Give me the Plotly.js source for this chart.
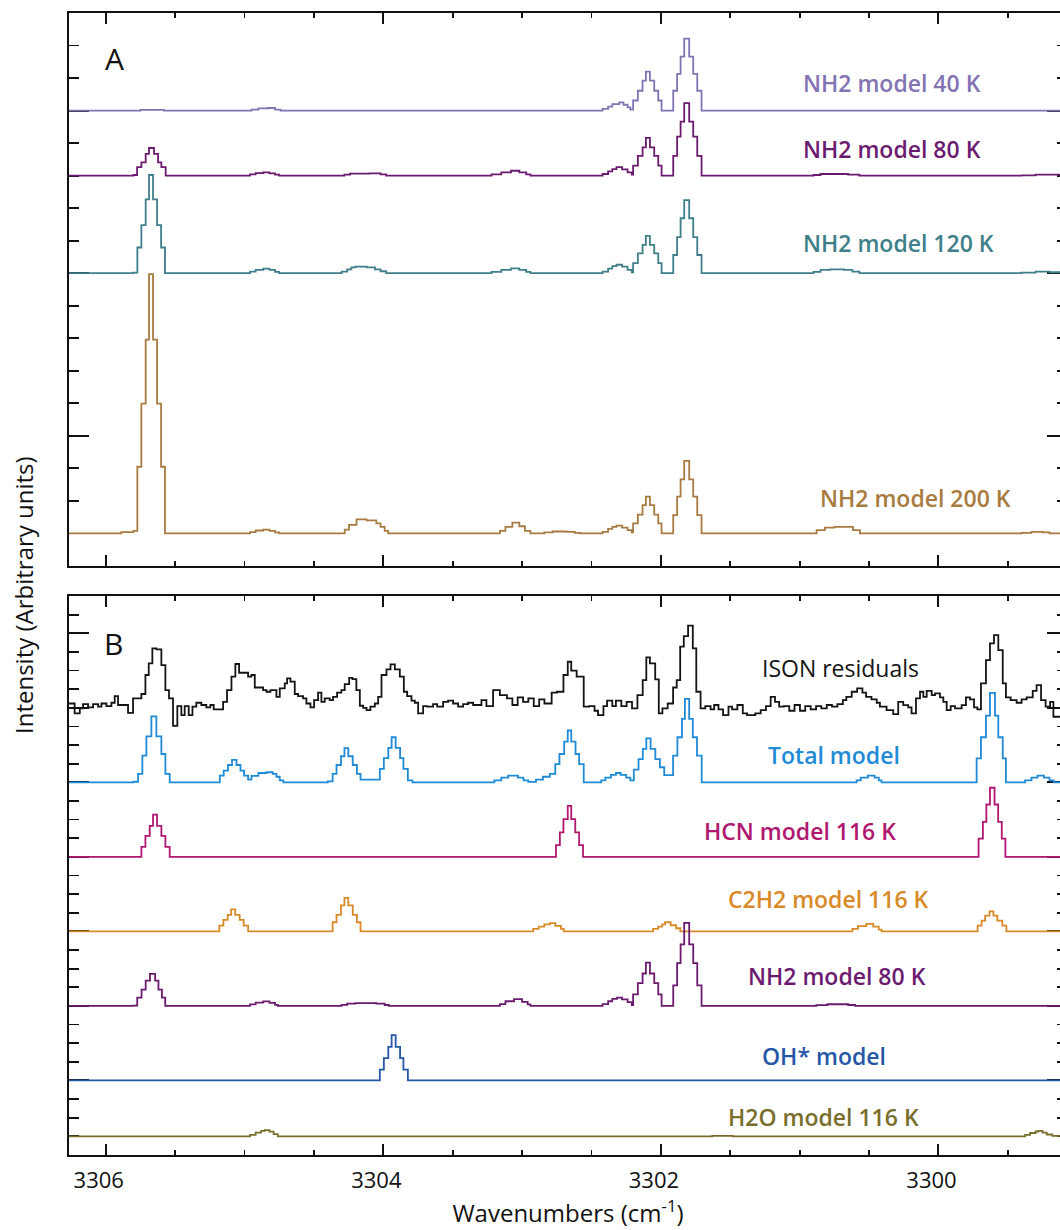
<!DOCTYPE html>
<html>
<head>
<meta charset="utf-8">
<script src="https://cdn.plot.ly/plotly-3.0.1.min.js"></script>
<style>
html,body{margin:0;padding:0;overflow:hidden;background:#fff;}
#chart{width:1080px;height:1230px;}
</style>
</head>
<body>
<div id="chart"></div>
<script>
// ---- Panel A series: [wavenumber (bin start), intensity] ----
const nh2_40K_A = [[3306.264,0],[3305.75,0.02],[3305.58,0],[3304.95,0.03],[3304.90,0.07],[3304.83,0.08],[3304.78,0.03],[3304.74,0],
 [3302.42,0.05],[3302.38,0.12],[3302.35,0.2],[3302.30,0.25],[3302.27,0.18],[3302.24,0.1],[3302.22,0.03],
 [3302.200,0.31],[3302.166,0.61],[3302.132,0.92],[3302.108,1.2],[3302.079,0.92],[3302.048,0.61],[3302.019,0.31],[3301.995,0],
 [3301.911,0.61],[3301.883,1.13],[3301.858,1.66],[3301.832,2.21],[3301.796,1.66],[3301.767,1.13],[3301.738,0.61],[3301.707,0],[3299.075,0]];

const nh2_80K_A = [[3306.264,0],[3305.80,0.02],[3305.774,0.26],[3305.743,0.41],[3305.712,0.67],[3305.688,0.85],[3305.652,0.67],[3305.623,0.41],[3305.599,0.26],[3305.568,0],
 [3304.96,0.04],[3304.92,0.08],[3304.865,0.1],[3304.82,0.07],[3304.78,0.03],[3304.75,0],
 [3304.28,0.03],[3304.24,0.06],[3304.10,0.07],[3304.02,0.04],[3303.98,0],
 [3303.22,0.04],[3303.15,0.1],[3303.08,0.15],[3303.02,0.1],[3302.97,0.04],[3302.94,0],
 [3302.42,0.05],[3302.38,0.13],[3302.35,0.2],[3302.32,0.26],[3302.28,0.19],[3302.24,0.1],[3302.21,0.03],
 [3302.200,0.31],[3302.166,0.61],[3302.132,0.87],[3302.108,1.16],[3302.079,0.87],[3302.048,0.61],[3302.019,0.31],[3301.995,0],
 [3301.911,0.61],[3301.883,1.2],[3301.858,1.66],[3301.832,2.23],[3301.796,1.66],[3301.767,1.2],[3301.738,0.61],[3301.707,0],
 [3300.90,0.02],[3300.85,0.05],[3300.65,0.03],[3300.57,0],[3299.40,0.01],[3299.30,0.03],[3299.075,0.03]];

const nh2_120K_A = [[3306.264,0],[3305.80,0.02],[3305.772,0.79],[3305.743,1.48],[3305.712,2.27],[3305.688,3.02],[3305.659,2.27],[3305.630,1.48],[3305.601,0.79],[3305.573,0],
 [3304.96,0.05],[3304.92,0.1],[3304.865,0.14],[3304.82,0.1],[3304.78,0.04],[3304.75,0],
 [3304.30,0.05],[3304.26,0.12],[3304.23,0.18],[3304.20,0.2],[3304.12,0.18],[3304.06,0.12],[3304.02,0.06],[3303.98,0],
 [3303.22,0.04],[3303.15,0.1],[3303.08,0.15],[3303.02,0.1],[3302.97,0.04],[3302.94,0],
 [3302.42,0.05],[3302.38,0.14],[3302.35,0.22],[3302.32,0.26],[3302.28,0.2],[3302.24,0.1],[3302.21,0.03],
 [3302.200,0.31],[3302.166,0.61],[3302.132,0.87],[3302.108,1.15],[3302.079,0.87],[3302.048,0.61],[3302.019,0.31],[3301.995,0],
 [3301.911,0.56],[3301.883,1.11],[3301.858,1.69],[3301.832,2.25],[3301.796,1.69],[3301.767,1.11],[3301.738,0.56],[3301.707,0],
 [3300.90,0.04],[3300.85,0.1],[3300.78,0.12],[3300.68,0.1],[3300.62,0.05],[3300.57,0],[3299.40,0.02],[3299.30,0.05],[3299.20,0.03],[3299.075,0.03]];

const nh2_200K_A = [[3306.264,0],[3305.887,0.04],[3305.80,0.08],[3305.772,2.05],[3305.743,3.99],[3305.712,5.96],[3305.688,7.97],[3305.659,5.96],[3305.630,3.99],[3305.601,2.05],[3305.573,0],
 [3304.96,0.04],[3304.92,0.09],[3304.865,0.12],[3304.82,0.08],[3304.78,0.03],[3304.75,0],
 [3304.278,0.12],[3304.247,0.26],[3304.193,0.43],[3304.12,0.4],[3304.05,0.31],[3304.02,0.2],[3303.99,0.08],[3303.965,0],
 [3303.16,0.08],[3303.12,0.2],[3303.07,0.33],[3303.02,0.22],[3302.98,0.08],[3302.94,0],
 [3302.84,0.03],[3302.78,0.06],[3302.68,0.05],[3302.62,0.02],[3302.58,0],
 [3302.42,0.05],[3302.38,0.14],[3302.35,0.2],[3302.32,0.24],[3302.28,0.18],[3302.24,0.1],[3302.21,0.03],
 [3302.200,0.31],[3302.166,0.58],[3302.132,0.87],[3302.108,1.13],[3302.079,0.87],[3302.048,0.58],[3302.019,0.31],[3301.995,0],
 [3301.911,0.56],[3301.883,1.13],[3301.858,1.66],[3301.832,2.23],[3301.796,1.66],[3301.767,1.13],[3301.738,0.56],[3301.707,0],
 [3300.878,0.1],[3300.818,0.18],[3300.75,0.2],[3300.662,0.2],[3300.616,0.1],[3300.566,0],
 [3299.40,0.02],[3299.33,0.05],[3299.25,0.03],[3299.20,0],[3299.075,0]];

// ---- Panel B series ----
const ison_residuals = [[3306.264,0.23],[3306.224,-0.30],[3306.187,-0.03],[3306.163,0.20],[3306.127,0.02],[3306.091,0.20],[3306.055,0.06],[3306.031,0.23],
 [3305.995,0.09],[3305.959,0.27],[3305.935,0.63],[3305.911,0.15],[3305.839,-0.27],[3305.803,0.50],[3305.743,0.74],[3305.714,1.76],[3305.690,2.38],
 [3305.664,3.19],[3305.635,3.13],[3305.599,2.29],[3305.570,0.95],[3305.544,0.50],[3305.515,-0.97],[3305.484,0.09],[3305.455,-0.39],[3305.431,0.09],
 [3305.402,-0.39],[3305.375,0.06],[3305.347,0.27],[3305.311,0.15],[3305.275,0.02],[3305.246,0.15],[3305.222,-0.09],[3305.154,0.32],[3305.126,0.95],
 [3305.094,1.67],[3305.066,2.35],[3305.039,1.88],[3304.974,1.67],[3304.950,1.76],[3304.926,1.09],[3304.866,0.95],[3304.842,0.86],[3304.813,0.95],
 [3304.770,0.59],[3304.746,1.04],[3304.710,1.31],[3304.693,1.58],[3304.669,1.40],[3304.638,0.74],[3304.614,0.63],[3304.578,0.50],[3304.554,0.23],
 [3304.525,0.02],[3304.499,0.41],[3304.470,0.81],[3304.446,0.32],[3304.422,0.50],[3304.386,0.41],[3304.362,0.59],[3304.333,0.81],[3304.302,0.95],
 [3304.278,1.27],[3304.246,1.61],[3304.222,1.54],[3304.194,0.95],[3304.169,0.11],[3304.145,0.0],[3304.121,-0.12],[3304.093,0.06],[3304.061,0.23],
 [3304.037,0.59],[3304.013,1.76],[3303.977,2.06],[3303.948,2.33],[3303.917,2.06],[3303.881,1.67],[3303.852,0.86],[3303.828,0.63],[3303.797,0.38],
 [3303.773,0.27],[3303.749,-0.30],[3303.713,0.09],[3303.684,0.06],[3303.641,0.20],[3303.612,0.06],[3303.569,0.32],[3303.533,0.38],[3303.497,0.23],
 [3303.461,0.06],[3303.425,0.20],[3303.389,0.27],[3303.353,0.15],[3303.293,0.41],[3303.257,0.09],[3303.209,0.95],
 [3303.160,0.68],[3303.109,0.50],[3303.070,0.15],[3303.032,0.56],[3302.993,0.32],[3302.955,0.50],[3302.916,0.09],[3302.877,0.45],[3302.839,0.23],
 [3302.787,0.81],[3302.749,0.86],[3302.702,1.76],[3302.671,2.47],[3302.646,1.99],[3302.607,1.67],[3302.556,0.06],[3302.517,0.09],[3302.478,-0.16],
 [3302.453,-0.39],[3302.414,0.09],[3302.388,0.38],[3302.350,0.09],[3302.324,0.38],[3302.285,0.09],[3302.247,0.32],[3302.208,-0.03],[3302.169,0.68],
 [3302.131,1.49],[3302.105,2.71],[3302.079,2.38],[3302.041,1.52],[3302.015,-0.30],[3301.989,-0.03],[3301.951,0.23],[3301.912,1.09],[3301.886,1.49],
 [3301.861,3.28],[3301.835,3.85],[3301.804,4.41],[3301.770,3.19],[3301.745,0.86],[3301.714,-0.03],[3301.680,0.09],[3301.642,-0.09],[3301.616,0.15],
 [3301.585,-0.09],[3301.552,-0.39],[3301.513,0.06],[3301.487,-0.09],[3301.449,0.15],[3301.410,-0.30],[3301.379,-0.39],[3301.320,-0.30],[3301.281,-0.12],
 [3301.243,0.09],[3301.209,0.59],[3301.178,0.32],[3301.148,0.06],[3301.114,0.09],[3301.075,-0.16],[3301.037,0.15],[3300.998,-0.16],[3300.960,0.09],
 [3300.921,-0.09],[3300.882,0.09],[3300.844,-0.03],[3300.805,0.15],[3300.767,0.06],[3300.728,0.20],[3300.689,0.41],[3300.664,0.59],[3300.625,0.86],
 [3300.586,1.04],[3300.548,0.81],[3300.522,0.59],[3300.483,0.45],[3300.445,0.27],[3300.422,0.06],[3300.374,-0.12],[3300.326,-0.34],[3300.290,0.32],
 [3300.254,0.14],[3300.218,0.02],[3300.194,-0.30],[3300.162,0.50],[3300.133,0.86],[3300.109,0.59],[3300.085,0.91],[3300.049,0.68],[3300.025,0.77],
 [3299.989,0.56],[3299.965,0.32],[3299.941,-0.12],[3299.912,0.09],[3299.881,-0.03],[3299.833,0.14],[3299.802,0.56],[3299.773,0.45],[3299.744,0.02],
 [3299.720,-0.09],[3299.694,1.31],[3299.658,2.56],[3299.629,3.46],[3299.600,3.90],[3299.569,3.10],[3299.537,1.31],[3299.514,0.56],[3299.480,0.41],
 [3299.437,0.27],[3299.401,0.45],[3299.365,0.56],[3299.321,0.91],[3299.293,1.22],[3299.261,0.41],[3299.228,0.06],[3299.196,0.32],[3299.172,-0.48],[3299.075,-0.48]];

const total_model = [[3306.264,0],[3305.80,0.03],[3305.767,0.45],[3305.736,1.43],[3305.707,2.47],[3305.671,3.54],[3305.635,2.47],[3305.599,1.52],[3305.570,0.45],[3305.539,0],
 [3305.178,0.36],[3305.150,0.63],[3305.119,0.93],[3305.090,1.2],[3305.058,0.93],[3305.029,0.63],[3305.003,0.36],[3304.974,0.15],
 [3304.950,0.35],[3304.90,0.5],[3304.842,0.54],[3304.796,0.45],[3304.77,0.3],[3304.746,0.1],[3304.72,0],
 [3304.40,0.05],[3304.365,0.45],[3304.337,0.93],[3304.305,1.4],[3304.28,1.84],[3304.252,1.4],[3304.22,0.93],[3304.19,0.45],[3304.164,0.15],
 [3304.025,0.72],[3303.996,1.3],[3303.964,1.85],[3303.940,2.42],[3303.911,1.85],[3303.879,1.3],[3303.855,0.72],[3303.823,0.1],[3303.79,0],
 [3303.20,0.1],[3303.15,0.25],[3303.10,0.36],[3303.03,0.25],[3302.99,0.1],[3302.955,0.02],[3302.90,0.15],[3302.85,0.3],[3302.80,0.45],
 [3302.761,0.98],[3302.731,1.52],[3302.697,2.18],[3302.671,2.78],[3302.646,2.18],[3302.615,1.52],[3302.589,0.98],[3302.556,0],
 [3302.43,0.1],[3302.40,0.25],[3302.36,0.4],[3302.324,0.5],[3302.29,0.4],[3302.25,0.25],[3302.22,0.1],
 [3302.195,0.68],[3302.161,1.25],[3302.130,1.79],[3302.105,2.36],[3302.074,1.79],[3302.040,1.25],[3302.007,0.81],[3301.976,0.39],
 [3301.912,1.43],[3301.881,2.42],[3301.848,3.4],[3301.827,4.48],[3301.796,3.4],[3301.770,2.42],[3301.740,1.43],[3301.706,0],
 [3300.59,0.1],[3300.56,0.25],[3300.509,0.36],[3300.46,0.25],[3300.43,0.1],[3300.41,0],
 [3299.725,1.29],[3299.694,2.42],[3299.658,3.58],[3299.629,4.8],[3299.593,3.58],[3299.569,2.42],[3299.537,1.29],[3299.514,0],
 [3299.376,0.1],[3299.33,0.25],[3299.287,0.36],[3299.24,0.25],[3299.20,0.1],[3299.17,0],[3299.075,0]];

const hcn_116K = [[3306.264,0],[3305.743,0.54],[3305.714,1.13],[3305.683,1.66],[3305.659,2.27],[3305.630,1.66],[3305.599,1.13],[3305.570,0.54],[3305.539,0],
 [3302.756,0.63],[3302.728,1.31],[3302.702,2.02],[3302.671,2.74],[3302.646,2.02],[3302.617,1.31],[3302.589,0.63],[3302.561,0],
 [3299.711,0.98],[3299.680,1.88],[3299.655,2.81],[3299.629,3.71],[3299.596,2.81],[3299.570,1.88],[3299.544,0.98],[3299.518,0],[3299.075,0]];

const c2h2_116K = [[3306.264,0],[3305.181,0.31],[3305.152,0.62],[3305.121,0.89],[3305.096,1.18],[3305.067,0.89],[3305.035,0.62],[3305.006,0.31],[3304.974,0],
 [3304.365,0.49],[3304.337,0.89],[3304.305,1.4],[3304.28,1.8],[3304.252,1.4],[3304.22,0.89],[3304.19,0.49],[3304.164,0],
 [3302.92,0.13],[3302.88,0.26],[3302.84,0.38],[3302.80,0.44],[3302.76,0.3],[3302.72,0.13],[3302.70,0],
 [3302.056,0.13],[3302.02,0.26],[3301.99,0.38],[3301.97,0.49],[3301.93,0.33],[3301.89,0.17],[3301.86,0],
 [3300.62,0.13],[3300.58,0.28],[3300.52,0.4],[3300.47,0.26],[3300.43,0.1],[3300.41,0],
 [3299.718,0.31],[3299.689,0.58],[3299.664,0.85],[3299.632,1.07],[3299.604,0.85],[3299.576,0.58],[3299.54,0.31],[3299.511,0],[3299.075,0]];

const nh2_80K_B = [[3306.264,0],[3305.80,0.02],[3305.773,0.45],[3305.742,0.87],[3305.712,1.36],[3305.681,1.72],[3305.644,1.36],[3305.620,0.87],[3305.595,0.45],[3305.571,0],
 [3304.96,0.08],[3304.92,0.18],[3304.865,0.24],[3304.82,0.16],[3304.78,0.06],[3304.76,0],
 [3304.30,0.06],[3304.26,0.12],[3304.20,0.15],[3304.05,0.12],[3303.99,0.05],[3303.96,0],
 [3303.16,0.1],[3303.12,0.25],[3303.058,0.36],[3303.00,0.22],[3302.96,0.08],[3302.94,0],
 [3302.42,0.1],[3302.38,0.25],[3302.35,0.38],[3302.316,0.45],[3302.28,0.35],[3302.24,0.2],[3302.21,0.05],
 [3302.200,0.62],[3302.166,1.22],[3302.132,1.74],[3302.108,2.32],[3302.079,1.74],[3302.048,1.22],[3302.019,0.62],[3301.995,0],
 [3301.911,1.1],[3301.883,2.3],[3301.858,3.3],[3301.832,4.46],[3301.796,3.3],[3301.767,2.3],[3301.738,1.1],[3301.707,0],
 [3300.88,0.04],[3300.80,0.09],[3300.65,0.05],[3300.60,0],[3299.075,0]];

const oh_model = [[3306.264,0],[3304.025,0.58],[3303.996,1.2],[3303.964,1.8],[3303.940,2.43],[3303.911,1.8],[3303.879,1.2],[3303.855,0.58],[3303.823,0],[3299.075,0]];

const h2o_116K = [[3306.264,0],[3304.96,0.08],[3304.92,0.2],[3304.88,0.3],[3304.853,0.34],[3304.82,0.25],[3304.79,0.12],[3304.76,0],
 [3301.63,0.03],[3301.48,0],[3299.376,0.08],[3299.34,0.18],[3299.30,0.26],[3299.28,0.29],[3299.25,0.2],[3299.22,0.1],[3299.18,0.03],[3299.075,0.03]];

// ---- names, offsets and colours ----
const seriesNamesA = ['NH2 model 40 K','NH2 model 80 K','NH2 model 120 K','NH2 model 200 K'];
const seriesDataA  = [nh2_40K_A, nh2_80K_A, nh2_120K_A, nh2_200K_A];
const offsetsA     = [14, 12, 9, 1];
const colorsA      = ['#8273b3','#6b1b6f','#3e7f89','#a87b40'];

const seriesNamesB = ['ISON residuals','Total model','HCN model 116 K','C2H2 model 116 K','NH2 model 80 K','OH* model','H2O model 116 K'];
const seriesDataB  = [ison_residuals, total_model, hcn_116K, c2h2_116K, nh2_80K_B, oh_model, h2o_116K];
const offsetsB     = [24, 20, 16, 12, 8, 4, 1];
const colorsB      = ['#141414','#1f8ad6','#b0176f','#d88a28','#6b1b6f','#2656a8','#7a6e2c'];
const weightsB     = [400, 600, 600, 600, 600, 600, 600];

// label anchor positions (wavenumber, y in axis units)
const labelPosA = [[3300.335,14.85],[3300.335,12.82],[3300.285,9.93],[3300.162,2.10]];
const labelPosB = [[3300.703,26.13],[3300.753,21.47],[3301.00,17.38],[3300.789,13.73],[3300.732,9.6],[3300.825,5.3],[3300.825,2.02]];

const FONT = '"Open Sans", "Noto Sans", sans-serif';
const traces = [];
const annotations = [];

function addSeries(data, off, color, name, xa, ya) {
  traces.push({
    x: data.map(p => p[0]),
    y: data.map(p => p[1] + off),
    type: 'scatter', mode: 'lines', name: name,
    line: {shape: 'hv', color: color, width: 1.8, simplify: false},
    xaxis: xa, yaxis: ya, hoverinfo: 'skip', showlegend: false
  });
}
seriesDataA.forEach((d,i) => addSeries(d, offsetsA[i], colorsA[i], seriesNamesA[i], 'x2', 'y2'));
seriesDataB.forEach((d,i) => addSeries(d, offsetsB[i], colorsB[i], seriesNamesB[i], 'x', 'y'));

seriesNamesA.forEach((n,i) => annotations.push({
  text: n, x: labelPosA[i][0], y: labelPosA[i][1], xref: 'x2', yref: 'y2',
  showarrow: false, xanchor: 'center', yanchor: 'middle',
  font: {family: FONT, size: 23, weight: 600, color: colorsA[i]}
}));
seriesNamesB.forEach((n,i) => annotations.push({
  text: n, x: labelPosB[i][0], y: labelPosB[i][1], xref: 'x', yref: 'y',
  showarrow: false, xanchor: 'center', yanchor: 'middle',
  font: {family: FONT, size: 23, weight: weightsB[i], color: colorsB[i]}
}));
annotations.push({text: 'A', xref: 'paper', yref: 'paper', x: (114-69)/998, y: 1-(59-13)/1142,
  showarrow: false, xanchor: 'center', yanchor: 'middle', font: {family: FONT, size: 30, color: '#111'}});
annotations.push({text: 'B', xref: 'paper', yref: 'paper', x: (113-69)/998, y: 1-(643.5-13)/1142,
  showarrow: false, xanchor: 'center', yanchor: 'middle', font: {family: FONT, size: 30, color: '#111'}});
annotations.push({text: 'Intensity (Arbitrary units)', xref: 'paper', yref: 'paper', x: (23-69)/998, y: 1-(595-13)/1142,
  textangle: -90, showarrow: false, xanchor: 'center', yanchor: 'middle', font: {family: FONT, size: 24, color: '#111'}});

const xRange = [3306.2645, 3299.074];
const xCommon = {
  range: xRange, tickmode: 'linear', tick0: 3300, dtick: 2,
  ticks: 'inside', ticklen: 11, tickwidth: 2, tickcolor: '#111',
  minor: {dtick: 0.5, tick0: 3300, ticks: 'inside', ticklen: 5, tickwidth: 1.8, tickcolor: '#111', showgrid: false},
  showline: true, linewidth: 2, linecolor: '#111', mirror: 'allticks', layer: 'below traces',
  showgrid: false, zeroline: false, fixedrange: true
};
const yCommon = {
  ticks: 'inside', ticklen: 20, tickwidth: 2, tickcolor: '#111', tickmode: 'linear',
  minor: {dtick: 1, tick0: 0, ticks: 'inside', ticklen: 10, tickwidth: 1.8, tickcolor: '#111', showgrid: false},
  showticklabels: false, showline: true, linewidth: 2, linecolor: '#111', mirror: 'allticks', layer: 'below traces',
  showgrid: false, zeroline: false, fixedrange: true
};
const layout = {
  width: 1080, height: 1230,
  margin: {l: 69, r: 13, t: 13, b: 75},
  paper_bgcolor: '#fff', plot_bgcolor: '#fff',
  font: {family: FONT, color: '#111'},
  showlegend: false,
  xaxis: Object.assign({}, xCommon, {
    domain: [0,1], anchor: 'y',
    tickfont: {family: FONT, size: 22, color: '#111'}, ticklabelstandoff: 5, ticklabelshift: 7,
    title: {text: 'Wavenumbers (cm<sup>-1</sup>)', font: {family: FONT, size: 24, color: '#111'}, standoff: 7}
  }),
  xaxis2: Object.assign({}, xCommon, {domain: [0,1], anchor: 'y2', matches: 'x', showticklabels: false}),
  yaxis: Object.assign({}, yCommon, {domain: [0, 0.4895], range: [0,30], anchor: 'x', tick0: 0, dtick: 4}),
  yaxis2: Object.assign({}, yCommon, {domain: [0.5158, 1], range: [0,17], anchor: 'x2', tick0: 4, dtick: 5}),
  annotations: annotations
};
Plotly.newPlot('chart', traces, layout, {displayModeBar: false, staticPlot: true});
</script>
</body>
</html>
